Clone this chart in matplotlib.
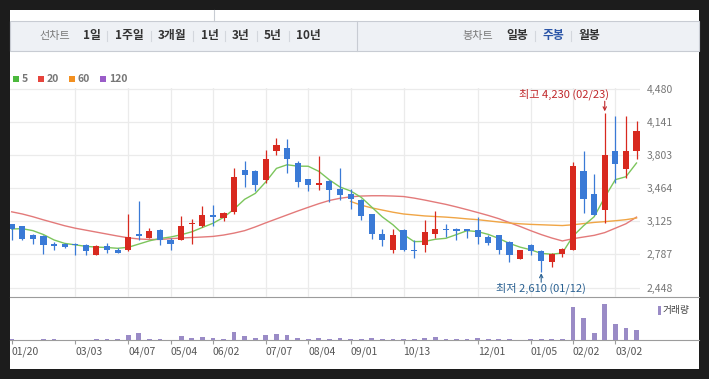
import matplotlib
matplotlib.use('Agg')
import matplotlib.pyplot as plt
from matplotlib.patches import Rectangle

plt.rcParams['font.family'] = ['Noto Sans CJK KR', 'DejaVu Sans']

# weekly candles, 01/20 .. 03/16 (60 weeks)
opens = [3098, 3080, 2981, 2971, 2890, 2890, 2897, 2884, 2782, 2876,
         2828, 2831, 2992, 2951, 3033, 2934, 2938, 3094, 3080, 3192,
         3159, 3220, 3652, 3634, 3550, 3845, 3878, 3720, 3560, 3491,
         3532, 3458, 3404, 3346, 3200, 2999, 2836, 3040, 2836, 2880,
         2999, 3050, 3040, 3050, 3040, 2962, 2989, 2914, 2741, 2880,
         2825, 2706, 2795, 2829, 3641, 3407, 3236, 3838, 3662, 3838]
highs = [3100, 3080, 2991, 2989, 2910, 2904, 2904, 2897, 2883, 2900,
         2849, 3203, 3328, 3053, 3050, 2958, 3175, 3152, 3277, 3295,
         3216, 3669, 3743, 3645, 3856, 3980, 3968, 3743, 3560, 3795,
         3550, 3669, 3455, 3353, 3200, 3047, 3050, 3047, 2938, 3135,
         3233, 3101, 3057, 3050, 3165, 2989, 2989, 2920, 2836, 2894,
         2832, 2802, 2853, 3726, 3845, 3611, 4230, 4204, 4204, 4151]
lows = [2938, 2930, 2897, 2795, 2828, 2856, 2785, 2778, 2778, 2805,
        2799, 2818, 2938, 2951, 2880, 2828, 2930, 2897, 3063, 3073,
        3124, 3200, 3471, 3430, 3516, 3798, 3618, 3471, 3430, 3448,
        3318, 3346, 3254, 3138, 2948, 2869, 2802, 2826, 2751, 2812,
        2955, 2965, 2938, 2958, 2894, 2880, 2792, 2706, 2741, 2785,
        2610, 2655, 2757, 2829, 3210, 3185, 3108, 3516, 3567, 3761]
closes = [3050, 2948, 2941, 2887, 2869, 2866, 2884, 2818, 2876, 2828,
          2805, 2968, 2978, 3030, 2938, 2894, 3080, 3111, 3192, 3165,
          3210, 3577, 3594, 3491, 3764, 3899, 3761, 3522, 3491, 3512,
          3440, 3390, 3353, 3182, 2996, 2938, 2989, 2836, 2825, 3012,
          3050, 3033, 3030, 3026, 2962, 2900, 2829, 2778, 2836, 2825,
          2716, 2792, 2843, 3692, 3353, 3185, 3805, 3713, 3845, 4049]
volume = [80, 0, 0, 100, 100, 0, 0, 0, 100, 100,
          100, 500, 700, 100, 100, 0, 400, 200, 300, 200,
          100, 800, 400, 200, 500, 600, 500, 200, 100, 200,
          100, 200, 100, 100, 200, 100, 100, 100, 100, 200,
          300, 100, 100, 100, 200, 100, 100, 100, 0, 100,
          100, 100, 100, 3300, 2200, 700, 3600, 1600, 1200, 1000]

ma5 = [3047, 3050, 3030, 2990, 2935, 2900, 2885, 2870, 2862, 2858,
       2850, 2860, 2893, 2926, 2950, 2965, 2988, 3018, 3062, 3105,
       3165, 3250, 3350, 3410, 3528, 3665, 3702, 3688, 3687, 3635,
       3548, 3475, 3435, 3370, 3270, 3170, 3090, 2990, 2918, 2920,
       2942, 2952, 2990, 3030, 3020, 2992, 2950, 2900, 2862, 2835,
       2798, 2790, 2802, 2974, 3080, 3172, 3370, 3550, 3580, 3720]
ma20 = [3222, 3200, 3172, 3140, 3110, 3080, 3055, 3035, 3015, 2995,
        2975, 2957, 2945, 2940, 2940, 2948, 2955, 2960, 2965, 2971,
        2985, 3005, 3030, 3068, 3110, 3150, 3190, 3230, 3268, 3305,
        3338, 3360, 3375, 3383, 3386, 3386, 3383, 3378, 3362, 3342,
        3320, 3298, 3272, 3244, 3215, 3185, 3152, 3112, 3073, 3030,
        2990, 2955, 2925, 2948, 2965, 2982, 3010, 3055, 3100, 3168]
ma60_start = 32
ma60 = [3328, 3290, 3262, 3240, 3218, 3200, 3190, 3180, 3174, 3168,
        3160, 3150, 3142, 3130, 3118, 3108, 3100, 3094, 3090, 3086,
        3082, 3090, 3102, 3114, 3122, 3131, 3142, 3159]

date_idx = [0, 6, 11, 15, 19, 24, 28, 32, 37, 44, 49, 53, 57]
date_labels = ['01/20', '03/03', '04/07', '05/04', '06/02', '07/07', '08/04',
               '09/01', '10/13', '12/01', '01/05', '02/02', '03/02']
price_ticks = [2448, 2787, 3125, 3464, 3803, 4141, 4480]
hi_date = '02/23'
lo_date = '01/12'

RED = '#d8291f'
BLUE = '#3a7ad6'
C_MA5 = '#7cc55c'
C_MA20 = '#e37a7a'
C_MA60 = '#f0a545'
C_VOL = '#9a8bc6'
GRID = '#ebebeb'
LINE = '#9c9c9c'

W, H = 709, 379
fig = plt.figure(figsize=(W / 100, H / 100), dpi=100, facecolor='#1c1c1c')


def box(x0, y0, x1, y1):
    # pixel box, origin top-left
    return fig.add_axes([x0 / W, 1 - y1 / H, (x1 - x0) / W, (y1 - y0) / H])


# ---- frame, header bar, legend ----
bg = box(0, 0, W, H)
bg.set_xlim(0, W)
bg.set_ylim(H, 0)
bg.axis('off')
bg.add_patch(Rectangle((10, 10), 689, 359, fc='white', ec='none'))
bg.add_patch(Rectangle((10, 20.5), 688.5, 30.5, fc='#eef1f5', ec='#c8ccd3', lw=0.8))
bg.plot([357, 357], [20.5, 51], color='#c8ccd3', lw=0.8)
bg.plot([214, 214], [10, 20.5], color='#c8ccd3', lw=0.8)

bg.text(55, 36, '선차트', ha='center', va='center', fontsize=8, color='#7a7a7a')
left_menu = ['1일', '1주일', '3개월', '1년', '3년', '5년', '10년']
left_x = [92, 129.5, 172, 209.5, 241, 273, 308.7]
for t, x in zip(left_menu, left_x):
    bg.text(x, 36, t, ha='center', va='center', fontsize=8.5, fontweight='bold', color='#333333')
for x in [107.3, 150.7, 193.3, 225.3, 257, 288.7, 535, 570.7]:
    bg.plot([x, x], [31, 41], color='#d3d7dd', lw=0.8)
bg.text(478, 36, '봉차트', ha='center', va='center', fontsize=8, color='#7a7a7a')
right_menu = ['일봉', '주봉', '월봉']
right_x = [517, 553, 589.3]
right_c = ['#333333', '#2c56a8', '#333333']
for t, x, c in zip(right_menu, right_x, right_c):
    bg.text(x, 36, t, ha='center', va='center', fontsize=8.5, fontweight='bold', color=c)

legend_names = ['5', '20', '60', '120']
legend_cols = ['#4cb93d', '#e6443c', '#f39020', '#9a5cc8']
legend_x = [13, 38, 69, 100]
for name, c, x in zip(legend_names, legend_cols, legend_x):
    bg.add_patch(Rectangle((x, 76), 6, 6, fc=c, ec='none'))
    bg.text(x + 9, 79, name, ha='left', va='center', fontsize=7.5, fontweight='bold', color='#777777')

bg.plot([10, 699], [297, 297], color=LINE, lw=0.8)
bg.plot([10, 699], [340, 340], color=LINE, lw=0.8)
bg.add_patch(Rectangle((658, 305.5), 2.5, 9, fc=C_VOL, ec='none'))
bg.text(662.5, 310, '거래량', ha='left', va='center', fontsize=7, color='#444444')

# ---- candle x/price mapping ----
first_px, step_px = 11.7, 10.59
xlim = ((10 - first_px) / step_px, (640 - first_px) / step_px)
px_hi, px_lo = 88.5, 287.7          # pixel rows of 4480 / 2448
ppu = (px_lo - px_hi) / (price_ticks[-1] - price_ticks[0])
top_px, bot_px = 87.5, 297
ylim = (price_ticks[0] - (bot_px - px_lo) / ppu, price_ticks[-1] + (px_hi - top_px) / ppu)

ax = box(10, top_px, 640, bot_px)
ax.set_facecolor('none')
ax.set_xlim(*xlim)
ax.set_ylim(*ylim)
for s in ax.spines.values():
    s.set_visible(False)
ax.set_xticks(date_idx[1:])
ax.set_xticklabels([])
ax.set_yticks(price_ticks)
ax.set_yticklabels([f'{v:,}' for v in price_ticks])
ax.yaxis.tick_right()
ax.tick_params(axis='both', length=0)
ax.tick_params(axis='y', pad=5, labelsize=7.5, labelcolor='#777777')
ax.grid(True, color=GRID, lw=0.9, zorder=0)
ax.set_axisbelow(True)

n = len(closes)
xs = list(range(n))
ax.plot(xs, ma20, color=C_MA20, lw=1.0, zorder=2)
ax.plot(range(ma60_start, n), ma60, color=C_MA60, lw=1.0, zorder=2)
ax.plot(xs, ma5, color=C_MA5, lw=1.0, zorder=2)

cols = [RED if c >= o else BLUE for o, c in zip(opens, closes)]
body_lo = [min(o, c) for o, c in zip(opens, closes)]
body_h = [max(abs(c - o), 12) for o, c in zip(opens, closes)]
ax.vlines(xs, lows, highs, colors=cols, lw=0.9, zorder=3)
ax.bar(xs, body_h, bottom=body_lo, width=0.58, color=cols, zorder=4)

hi_i = highs.index(max(highs))
lo_i = lows.index(min(lows))
HI_C = '#c0282b'
LO_C = '#2a6192'
ax.annotate('', xy=(hi_i, highs[hi_i]), xytext=(0, 8.5), textcoords='offset points',
            arrowprops=dict(arrowstyle='->', color=HI_C, lw=0.8, shrinkA=0, shrinkB=1.2,
                            mutation_scale=6), annotation_clip=False)
ax.annotate(f'최고 {highs[hi_i]:,} ({hi_date})', xy=(hi_i, highs[hi_i]), xytext=(3, 13.5),
            textcoords='offset points', ha='right', va='center', fontsize=8, color=HI_C,
            annotation_clip=False)
ax.annotate('', xy=(lo_i, lows[lo_i]), xytext=(0, -7.5), textcoords='offset points',
            arrowprops=dict(arrowstyle='->', color=LO_C, lw=0.8, shrinkA=0, shrinkB=1.0,
                            mutation_scale=6), annotation_clip=False)
ax.annotate(f'최저 {lows[lo_i]:,} ({lo_date})', xy=(lo_i, lows[lo_i]), xytext=(0, -12),
            textcoords='offset points', ha='center', va='center', fontsize=8, color=LO_C,
            annotation_clip=False)

# ---- volume panel ----
vax = box(10, 297, 640, 340)
vax.set_facecolor('none')
vax.set_xlim(*xlim)
vax.set_ylim(0, 4300)
for s in vax.spines.values():
    s.set_visible(False)
vax.bar(xs, volume, width=0.45, color=C_VOL, zorder=2)
vax.set_yticks([])
vax.set_xticks(date_idx)
vax.set_xticklabels(date_labels)
vax.tick_params(axis='x', length=3, width=0.8, color=LINE, pad=2,
                labelsize=7.5, labelcolor='#555555')
for lab in vax.get_xticklabels():
    lab.set_horizontalalignment('left')

fig.savefig('out.png', dpi=100, facecolor=fig.get_facecolor())
